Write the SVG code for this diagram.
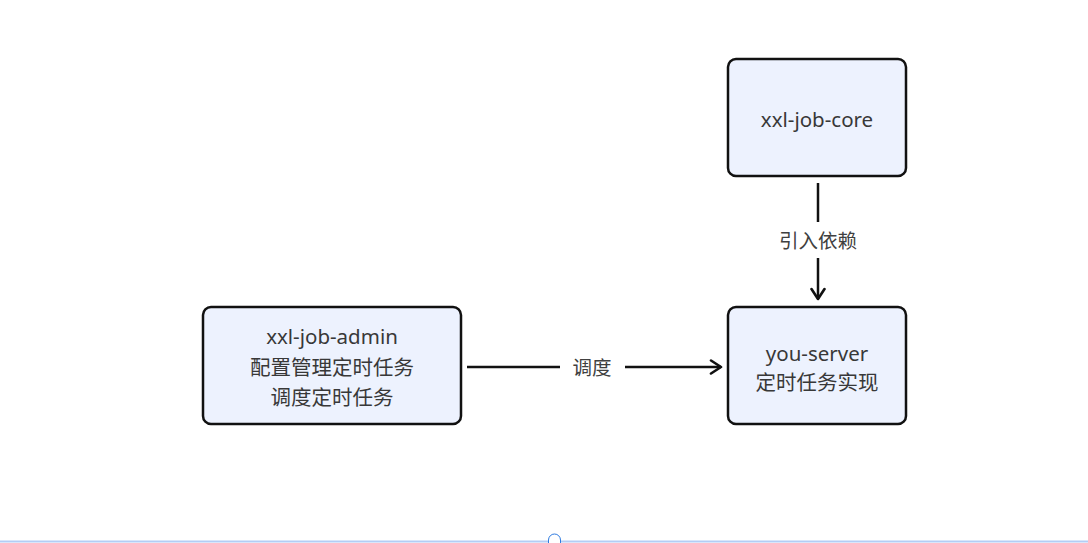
<svg xmlns="http://www.w3.org/2000/svg" width="1088" height="543" viewBox="0 0 1088 543">
<style>
.box{fill:#edf2fe;stroke:#111;stroke-width:2.5}
.t{font-family:"Noto Sans","Noto Sans CJK SC",sans-serif;font-size:20.5px;fill:#383838;text-anchor:middle;dominant-baseline:central}
.lbl{font-family:"Noto Sans","Noto Sans CJK SC",sans-serif;font-size:19.5px;fill:#404040;text-anchor:middle;dominant-baseline:central}
.edge{fill:none;stroke:#111;stroke-width:2.5}
</style>
<defs>
<marker id="arr" viewBox="0 0 14 16" refX="12" refY="8" markerWidth="14" markerHeight="16" markerUnits="userSpaceOnUse" orient="auto">
<path d="M2,1.5 L12,8 L2,14.5" fill="none" stroke="#111" stroke-width="2.6" stroke-linecap="round" stroke-linejoin="round"/>
</marker>
</defs>
<rect width="1088" height="543" fill="#fff"/>
<g id="connectors">
<line class="edge" x1="467" y1="367" x2="560" y2="367"/>
<line class="edge" x1="625" y1="367" x2="721" y2="367" marker-end="url(#arr)"/>
<text class="lbl" x="592" y="367">调度</text>
<line class="edge" x1="818" y1="183" x2="818" y2="222"/>
<line class="edge" x1="818" y1="258" x2="818" y2="299" marker-end="url(#arr)"/>
<text class="lbl" x="818" y="240">引入依赖</text>
</g>
<g id="core">
<rect class="box" x="728" y="59" width="178" height="117" rx="8"/>
<text class="t" x="817" y="119">xxl-job-core</text>
</g>
<g id="admin">
<rect class="box" x="203" y="307" width="258" height="117" rx="8"/>
<text class="t" x="332" y="336">xxl-job-admin</text>
<text class="t" x="332" y="367">配置管理定时任务</text>
<text class="t" x="332" y="397">调度定时任务</text>
</g>
<g id="server">
<rect class="box" x="728" y="307" width="178" height="117" rx="8"/>
<text class="t" x="817" y="353">you-server</text>
<text class="t" x="817" y="382">定时任务实现</text>
</g>
<g id="footer">
<line x1="0" y1="541.5" x2="1088" y2="541.5" stroke="#b3cdf5" stroke-width="2"/>
<path d="M548.5,543 L548.5,540 A6,6 0 0 1 560.5,540 L560.5,543" fill="#fff" stroke="#2f7be0" stroke-width="1"/>
</g>
</svg>
